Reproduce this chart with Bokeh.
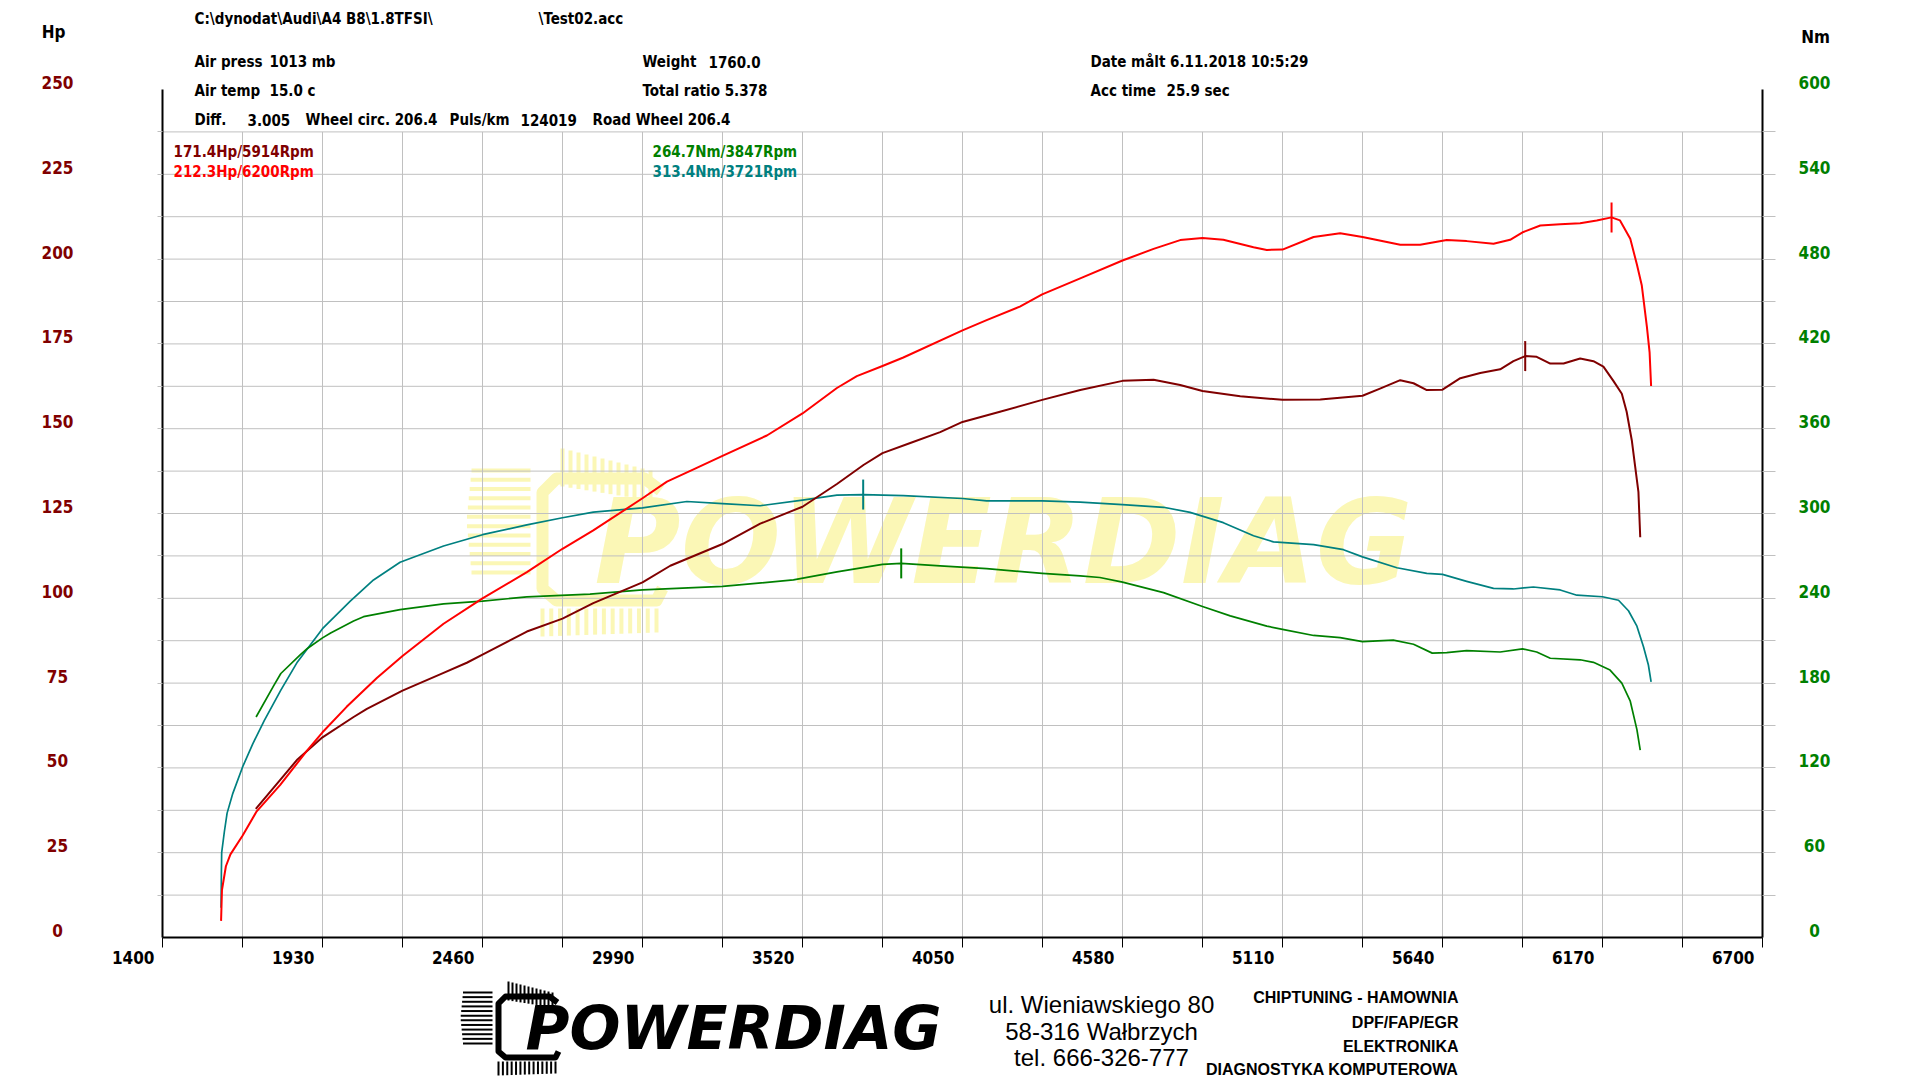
import numpy as np
from bokeh.plotting import figure
from bokeh.models import Range1d, LinearAxis, Label, FixedTicker
from bokeh.core.properties import value
from bokeh.embed import file_html
from bokeh.resources import INLINE

# ---------------- data ----------------
red_rpm = [1594, 1597, 1610, 1625, 1665, 1712, 1790, 1878, 1930, 2010, 2110, 2195, 2331, 2460,
           2607, 2725, 2827, 2990, 3071, 3159, 3255, 3402, 3520, 3634, 3700, 3785, 3854, 4050, 4130,
           4240, 4314, 4440, 4580, 4683, 4771, 4845, 4914, 5014, 5058, 5110, 5213, 5301, 5375,
           5500, 5566, 5654, 5720, 5809, 5864, 5908, 5964, 6030, 6096, 6151, 6200, 6228, 6262,
           6284, 6300, 6317, 6326, 6331]
red_hp = [4.9, 14.0, 21.0, 24.5, 30.0, 37.2, 45.0, 55.0, 60.5, 68.0, 76.5, 83.0, 92.5, 100.0,
          107.7, 114.6, 120.0, 129.5, 134.4, 138.0, 142.0, 148.0, 154.5, 162.0, 165.5, 168.5, 171.0, 179.0, 182.0,
          186.0, 189.6, 194.3, 199.6, 203.0, 205.6, 206.2, 205.7, 203.5, 202.7, 202.8, 206.5, 207.6, 206.5,
          204.2, 204.2, 205.6, 205.3, 204.5, 205.7, 208.0, 209.9, 210.3, 210.6, 211.4, 212.3, 211.4, 206.0,
          198.4, 192.3, 180.1, 172.5, 162.6]

dred_rpm = [1709, 1790, 1847, 1930, 2033, 2077, 2195, 2331, 2408, 2460, 2607, 2725, 2827, 2990,
            3082, 3255, 3380, 3520, 3634, 3722, 3785, 3877, 3976, 4050, 4174, 4314, 4440, 4580,
            4683, 4771, 4845, 4970, 5110, 5235, 5375, 5433, 5500, 5544, 5588, 5640, 5699, 5765,
            5831, 5875, 5914, 5952, 5997, 6041, 6096, 6140, 6173, 6206, 6234, 6250, 6267, 6278,
            6289, 6295]
dred_hp = [37.9, 46.5, 52.5, 59.0, 65.0, 67.4, 72.8, 78.0, 81.0, 83.4, 90.2, 94.0, 98.6, 104.7,
           109.6, 116.0, 122.0, 127.0, 133.7, 139.3, 142.8, 145.8, 149.0, 152.0, 155.0, 158.5, 161.4, 164.1,
           164.4, 162.9, 161.1, 159.6, 158.5, 158.6, 159.7, 161.8, 164.3, 163.4, 161.4, 161.5, 164.9, 166.4,
           167.5, 169.9, 171.4, 171.2, 169.2, 169.2, 170.7, 169.9, 168.3, 164.1, 160.3, 155.0, 146.6, 139.0,
           131.4, 118.0]

teal_rpm = [1594, 1595, 1596, 1605, 1614, 1633, 1665, 1699, 1737, 1792, 1847, 1930, 2022, 2099,
            2187, 2331, 2460, 2607, 2725, 2827, 2990, 3137, 3255, 3380, 3520, 3634, 3721, 3854,
            4050, 4130, 4314, 4440, 4580, 4716, 4804, 4914, 5014, 5080, 5213, 5312, 5375, 5489,
            5588, 5640, 5720, 5809, 5875, 5941, 6030, 6085, 6170, 6223, 6256, 6284, 6306, 6322,
            6331]
teal_nm = [21.0, 45.0, 60.0, 75.0, 88.0, 102.0, 120.5, 137.0, 153.5, 175.0, 195.0, 218.5, 238.0, 253.0,
           265.5, 277.0, 285.0, 292.0, 297.0, 301.0, 304.0, 308.5, 307.0, 305.5, 309.5, 313.0, 313.4, 312.6,
           310.6, 309.0, 309.0, 308.0, 306.3, 304.4, 300.8, 293.5, 284.3, 279.9, 278.0, 274.4, 269.3, 261.6,
           257.6, 256.9, 252.0, 247.0, 246.6, 248.0, 245.9, 242.2, 241.1, 238.6, 231.2, 220.3, 205.6, 192.8,
           180.8]

green_rpm = [1710, 1768, 1792, 1856, 1880, 1930, 1957, 2033, 2066, 2187, 2331, 2460, 2607, 2816,
             2990, 3255, 3490, 3634, 3785, 3847, 3976, 4130, 4314, 4440, 4505, 4580, 4716, 4845,
             4937, 5058, 5110, 5213, 5301, 5375, 5477, 5544, 5606, 5654, 5720, 5831, 5905, 5952,
             5997, 6096, 6140, 6195, 6234, 6262, 6284, 6295]
green_nm = [156.0, 178.0, 186.8, 200.0, 204.5, 212.0, 215.5, 224.0, 227.0, 232.0, 236.0, 238.0, 241.0, 243.0,
            246.0, 248.4, 253.0, 258.7, 264.0, 264.7, 263.0, 261.0, 257.6, 255.8, 254.7, 251.4, 244.0, 234.2,
            227.6, 220.3, 218.0, 213.7, 212.2, 209.3, 210.4, 207.5, 201.2, 201.6, 203.0, 202.0, 204.2, 202.0,
            197.6, 196.5, 194.7, 189.2, 180.0, 167.2, 147.1, 132.5]

hp_peak_rpm = [5914, 6200]
hp_peak_val = [171.4, 212.3]
nm_peak_rpm = [3847, 3721]
nm_peak_val = [264.7, 313.4]

x_tick_labels = [1400, 1930, 2460, 2990, 3520, 4050, 4580, 5110, 5640, 6170, 6700]
x_grid = [1400 + 265 * i for i in range(21)]
hp_tick_labels = [0, 25, 50, 75, 100, 125, 150, 175, 200, 225, 250]
nm_tick_labels = [0, 60, 120, 180, 240, 300, 360, 420, 480, 540, 600]
hp_grid = [12.5 * i for i in range(1, 20)]
nm_grid = [30 * i for i in range(1, 20)]

header_texts = [
    ("C:\\dynodat\\Audi\\A4 B8\\1.8TFSI\\", 194, 18),
    ("\\Test02.acc", 538, 18),
    ("Air press", 194, 61), ("1013 mb", 269, 61),
    ("Weight", 642, 61), ("1760.0", 708, 61),
    ("Date målt 6.11.2018 10:5:29", 1090, 61),
    ("Air temp", 194, 90), ("15.0 c", 269, 90),
    ("Total ratio 5.378", 642, 90),
    ("Acc time", 1090, 90), ("25.9 sec", 1166, 90),
    ("Diff.", 194, 119), ("3.005", 247, 119), ("Wheel circ. 206.4", 305, 119),
    ("Puls/km", 449, 119), ("124019", 520, 119), ("Road Wheel 206.4", 592, 119),
]
address_lines = ["ul. Wieniawskiego 80", "58-316 Wałbrzych", "tel. 666-326-777"]
service_lines = ["CHIPTUNING - HAMOWNIA", "DPF/FAP/EGR", "ELEKTRONIKA", "DIAGNOSTYKA KOMPUTEROWA"]
logo_text = "POWERDIAG"

# ---------------- colours / fonts ----------------
C_RED, C_DRED, C_GREEN, C_TEAL = "#ff0000", "#800000", "#008000", "#008080"
GRID_C = "#c0c0c0"
WM_C = "#fbf7b6"
TF = "DejaVu Sans Condensed, DejaVu Sans"

# ---------------- geometry (page pixels of the plot area) ----------------
X_MIN, X_MAX, HP_MAX, NM_MAX = 1400, 6700, 250, 600
PX_L, PX_R, PX_T, PX_B = 162, 1762, 89, 937
W, H = 1904, 1080
MARGIN = 0  # bokeh's page template has no body margin


def xd(px):
    return X_MIN + (px - PX_L) * (X_MAX - X_MIN) / (PX_R - PX_L)


def yd(py):
    return (PX_B - py) * HP_MAX / (PX_B - PX_T)


# the frame covers the whole canvas; the data area sits inside it
p = figure(width=W, height=H,
           x_range=Range1d(xd(MARGIN), xd(MARGIN + W)),
           y_range=Range1d(yd(MARGIN + H), yd(MARGIN)),
           output_backend="svg", toolbar_location=None,
           x_axis_location=None, y_axis_location=None,
           min_border_left=0, min_border_right=0, min_border_top=0, min_border_bottom=0)
p.extra_y_ranges = {"nm": Range1d(yd(MARGIN + H) * NM_MAX / HP_MAX, yd(MARGIN) * NM_MAX / HP_MAX)}
p.outline_line_color = None
p.grid.visible = False
p.background_fill_color = "white"
p.border_fill_color = "white"

# axes: lines + tick marks (tick marks as minor ticks, labels drawn separately)
xax = LinearAxis(ticker=FixedTicker(ticks=[], minor_ticks=x_grid), fixed_location=0,
                 bounds=(X_MIN, X_MAX), axis_line_width=2, axis_line_color="black",
                 minor_tick_out=10, minor_tick_in=0, minor_tick_line_color="black",
                 minor_tick_line_width=1, major_tick_line_color=None)
p.add_layout(xax, "below")
lax = LinearAxis(ticker=FixedTicker(ticks=[], minor_ticks=hp_grid), fixed_location=X_MIN,
                 bounds=(0, HP_MAX), axis_line_width=2, axis_line_color="black",
                 minor_tick_out=5, minor_tick_in=0, minor_tick_line_color=GRID_C,
                 major_tick_line_color=None)
p.add_layout(lax, "left")
rax = LinearAxis(y_range_name="nm", ticker=FixedTicker(ticks=[], minor_ticks=nm_grid),
                 fixed_location=X_MAX, bounds=(0, NM_MAX), axis_line_width=2,
                 axis_line_color="black", minor_tick_out=13, minor_tick_in=0,
                 minor_tick_line_color=GRID_C, major_tick_line_color=None)
p.add_layout(rax, "right")


# ---------------- logo decoration (bracket + hatching), in page pixels ----------------
def logo_decor(ox, oy, s, color):
    xs, ys = [], []
    for t in np.linspace(0, 1, 12):  # top hatch
        x = ox + s * (63 + 44 * t)
        xs.append([xd(x), xd(x)])
        ys.append([yd(oy + s * (6 + 11 * t)), yd(oy + s * (25 + 7 * t))])
    for t in np.linspace(0, 1, 12):  # left hatch
        y = oy + s * (17 + 51 * t)
        x0 = ox + s * (15 + 5 * abs(t - 0.5))
        xs.append([xd(x0), xd(ox + s * 47)])
        ys.append([yd(y), yd(y)])
    for t in np.linspace(0, 1, 14):  # bottom hatch
        x = ox + s * (53 + 57 * t)
        xs.append([xd(x), xd(x)])
        ys.append([yd(oy + s * 86), yd(oy + s * (100 - 2 * t))])
    p.multi_line(xs, ys, line_color=color, line_width=2 * s)
    bx = [112, 104, 60, 53, 53, 60, 110, 113]
    by = [27, 21, 21, 28, 76, 82, 82, 76]
    p.line([xd(ox + s * v) for v in bx], [yd(oy + s * v) for v in by],
           line_color=color, line_width=6 * s, line_join="round")


# watermark (behind grid and curves)
logo_decor(436, 436, 2.0, WM_C)
p.text(x=[xd(1003)], y=[yd(541)], text=[logo_text], text_font=value("DejaVu Sans"),
       text_font_style="bold italic", text_font_size=value("118px"), text_color=WM_C,
       text_align="center", text_baseline="middle")

# grid
p.segment(x0=x_grid[1:-1], x1=x_grid[1:-1], y0=[0] * 19, y1=[hp_grid[-1]] * 19,
          line_color=GRID_C, line_width=1)
p.segment(x0=[X_MIN] * len(hp_grid), x1=[X_MAX] * len(hp_grid), y0=hp_grid, y1=hp_grid,
          line_color=GRID_C, line_width=1)

# curves
p.line(teal_rpm, teal_nm, y_range_name="nm", line_color=C_TEAL, line_width=1.7, line_join="round")
p.line(green_rpm, green_nm, y_range_name="nm", line_color=C_GREEN, line_width=1.7, line_join="round")
p.line(dred_rpm, dred_hp, line_color=C_DRED, line_width=2, line_join="round")
p.line(red_rpm, red_hp, line_color=C_RED, line_width=2, line_join="round")

# peak markers
p.scatter(hp_peak_rpm, hp_peak_val, marker="dash", angle=np.pi / 2, size=30,
          line_color=[C_DRED, C_RED], line_width=2)
p.scatter(nm_peak_rpm, nm_peak_val, marker="dash", angle=np.pi / 2, size=30,
          line_color=[C_GREEN, C_TEAL], line_width=2, y_range_name="nm")


def add_text(text, px, py, size, color="black", align="left", style="bold", font=TF):
    p.add_layout(Label(x=xd(px), y=yd(py), text=text, text_font=font,
                       text_font_size=f"{size}px", text_font_style=style,
                       text_color=color, text_align=align, text_baseline="middle"))


# tick labels
px_per_hp = (PX_B - PX_T) / HP_MAX
for v in hp_tick_labels:
    add_text(str(v), 57, PX_B - v * px_per_hp - 7, 17, C_DRED, "center")
for v in nm_tick_labels:
    add_text(str(v), 1814, PX_B - v * (PX_B - PX_T) / NM_MAX - 7, 17, C_GREEN, "center")
px_per_rpm = (PX_R - PX_L) / (X_MAX - X_MIN)
for v in x_tick_labels:
    add_text(str(v), PX_L + (v - X_MIN) * px_per_rpm - 8, 957, 17, "black", "right")
add_text("Hp", 53, 31, 17, "black", "center")
add_text("Nm", 1815, 36, 17, "black", "center")

# header
for t, x, y in header_texts:
    add_text(t, x, y, 15)

# peak legend
add_text(f"{hp_peak_val[0]:.1f}Hp/{hp_peak_rpm[0]}Rpm", 173, 151, 15, C_DRED)
add_text(f"{hp_peak_val[1]:.1f}Hp/{hp_peak_rpm[1]}Rpm", 173, 171, 15, C_RED)
add_text(f"{nm_peak_val[0]:.1f}Nm/{nm_peak_rpm[0]}Rpm", 652, 151, 15, C_GREEN)
add_text(f"{nm_peak_val[1]:.1f}Nm/{nm_peak_rpm[1]}Rpm", 652, 171, 15, C_TEAL)

# footer
logo_decor(445, 975, 1.0, "black")
add_text(logo_text, 733, 1027, 60, "black", "center", "bold italic", "DejaVu Sans")
for t, y in zip(address_lines, [1004, 1031, 1057]):
    add_text(t, 1101, y, 24, "black", "center", "normal", "Liberation Sans")
for t, y in zip(service_lines, [997, 1022, 1046, 1069]):
    add_text(t, 1458, y, 16, "black", "right", "bold", "Liberation Sans")

open("out.html", "w").write(file_html(p, INLINE))
